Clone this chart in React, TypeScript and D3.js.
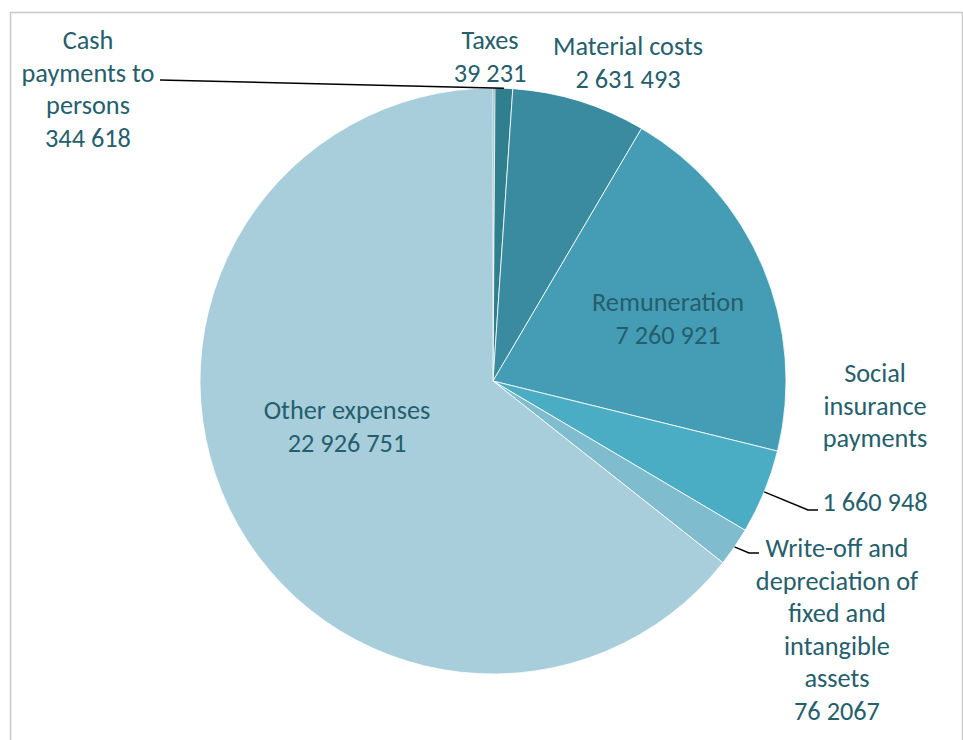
import React from "react";
import * as d3 from "d3";

const categories = [
  "Taxes",
  "Cash payments to persons",
  "Material costs",
  "Remuneration",
  "Social insurance payments",
  "Write-off and depreciation of fixed and intangible assets",
  "Other expenses",
];
const values = [39231, 344618, 2631493, 7260921, 1660948, 762067, 22926751];
const valueLabels = ["39 231", "344 618", "2 631 493", "7 260 921", "1 660 948", "76 2067", "22 926 751"];
const labelLines = [
  ["Taxes"],
  ["Cash", "payments to", "persons"],
  ["Material costs"],
  ["Remuneration"],
  ["Social", "insurance", "payments"],
  ["Write-off and", "depreciation of", "fixed and", "intangible", "assets"],
  ["Other expenses"],
];
const colors = ["#2a6f7e", "#307f8f", "#3a8ba0", "#449db4", "#4badc4", "#7fbccd", "#a8cedb"];

const W = 963;
const H = 740;
const cx = 493;
const cy = 381;
const R = 293;
const LH = 32.5;
const FS = 26.3;
const textColor = "#255e6c";

const labelLayout: { x: number; y: number; anchor?: [number, number][]; valueY?: number }[] = [
  { x: 490, y: 40 },
  { x: 88, y: 40, anchor: [[160, 80]] },
  { x: 628, y: 46 },
  { x: 668, y: 302 },
  { x: 875, y: 373, anchor: [[808, 510], [818, 510]], valueY: 502 },
  { x: 837, y: 548, anchor: [[749, 553], [759, 553]] },
  { x: 347, y: 410 },
];

export default function App() {
  const pie = d3.pie<number>().sort(null).value((d) => d);
  const arcs = pie(values);
  const arc = d3.arc<d3.PieArcDatum<number>>().innerRadius(0).outerRadius(R);

  return (
    <svg width={W} height={H} style={{ display: "block", position: "absolute", left: 0, top: 0 }}>
      <rect x={0} y={0} width={W} height={H} fill="#fff" />
      <rect x={10.5} y={12.5} width={952} height={740} fill="#fff" stroke="#c9c9c9" strokeWidth={1.5} />
      <g transform={`translate(${cx},${cy})`}>
        {arcs.map((a, i) => (
          <path key={categories[i]} d={arc(a) || ""} fill={colors[i]} stroke="#fff" strokeWidth={0.8} />
        ))}
      </g>
      {arcs.map((a, i) => {
        const L = labelLayout[i];
        if (!L.anchor) return null;
        const mid = (a.startAngle + a.endAngle) / 2;
        const sx = cx + Math.sin(mid) * R;
        const sy = cy - Math.cos(mid) * R;
        const pts: [number, number][] = i === 1 ? [...L.anchor, [sx, sy]] : [[sx, sy], ...L.anchor];
        return (
          <polyline
            key={"l" + i}
            points={pts.map((p) => p.join(",")).join(" ")}
            fill="none"
            stroke="#000"
            strokeWidth={1.5}
          />
        );
      })}
      {labelLines.map((lines, i) => {
        const L = labelLayout[i];
        const vy = L.valueY !== undefined ? L.valueY : L.y + lines.length * LH;
        return (
          <g key={"t" + i} fill={textColor} fontFamily="Carlito, Calibri, Lato, sans-serif" fontSize={FS} textAnchor="middle">
            {lines.map((ln, j) => (
              <text key={j} x={L.x} y={L.y + j * LH} dy="0.35em">
                {ln}
              </text>
            ))}
            <text x={L.x} y={vy} dy="0.35em">
              {valueLabels[i]}
            </text>
          </g>
        );
      })}
    </svg>
  );
}
